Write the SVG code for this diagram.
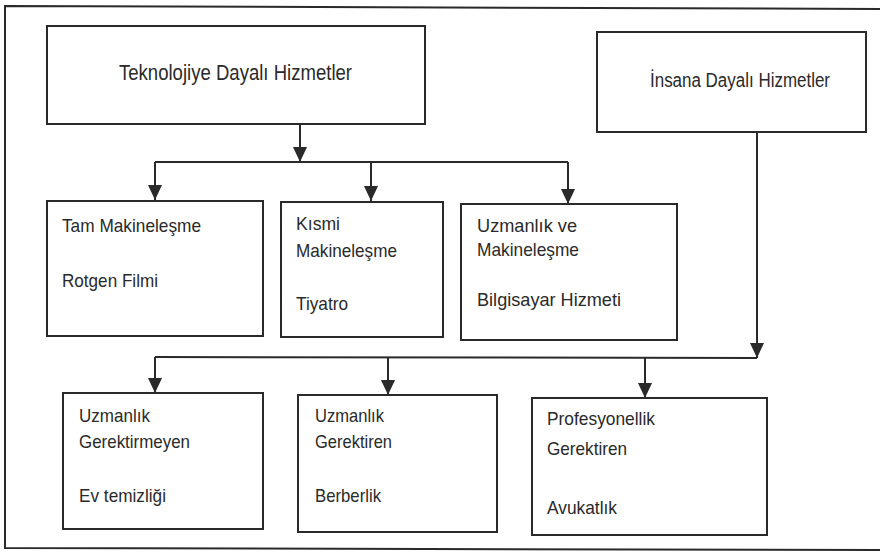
<svg xmlns="http://www.w3.org/2000/svg" width="880" height="553" viewBox="0 0 880 553">
<style>
.bx{fill:#fff;stroke:#2a2a2a;stroke-width:2}
.ln{fill:none;stroke:#2a2a2a;stroke-width:2}
.t{font-family:"Liberation Sans",Arial,sans-serif;font-size:19px;fill:#2a2a2a}
.h{font-family:"Liberation Sans",Arial,sans-serif;fill:#2a2a2a}
</style>
<defs>
<marker id="arr" viewBox="0 -8 15 16" refX="15" refY="0" markerWidth="15" markerHeight="16" markerUnits="userSpaceOnUse" orient="auto">
<path d="M0,-7 L15,0 L0,7 z" fill="#2a2a2a"/>
</marker>
</defs>
<rect x="0" y="0" width="880" height="553" fill="#fff"/>
<path class="ln" d="M890,9 L5,6 L5,548 L890,550"/>

<g id="connectors">
<line class="ln" x1="300" y1="124" x2="300" y2="162" marker-end="url(#arr)"/>
<line class="ln" x1="155" y1="162" x2="568" y2="162"/>
<line class="ln" x1="155" y1="162" x2="155" y2="200" marker-end="url(#arr)"/>
<line class="ln" x1="371" y1="162" x2="371" y2="201" marker-end="url(#arr)"/>
<line class="ln" x1="568" y1="162" x2="568" y2="204" marker-end="url(#arr)"/>
<line class="ln" x1="757" y1="132" x2="757" y2="358" marker-end="url(#arr)"/>
<line class="ln" x1="155" y1="357" x2="757" y2="358"/>
<line class="ln" x1="155" y1="357" x2="155" y2="393" marker-end="url(#arr)"/>
<line class="ln" x1="388" y1="357" x2="388" y2="395" marker-end="url(#arr)"/>
<line class="ln" x1="645" y1="358" x2="645" y2="398" marker-end="url(#arr)"/>
</g>

<g id="tech">
<rect class="bx" x="47" y="26" width="378" height="98"/>
<text class="h" x="119" y="80" font-size="22" textLength="233" lengthAdjust="spacingAndGlyphs">Teknolojiye Dayalı Hizmetler</text>
</g>
<g id="human">
<rect class="bx" x="597" y="32" width="269" height="100"/>
<text class="h" x="650" y="87" font-size="20" textLength="180" lengthAdjust="spacingAndGlyphs">İnsana Dayalı Hizmetler</text>
</g>

<g id="full">
<rect class="bx" x="47" y="201" width="216" height="135"/>
<text class="t" x="62" y="232" textLength="139" lengthAdjust="spacingAndGlyphs">Tam Makineleşme</text>
<text class="t" x="62" y="287" textLength="96" lengthAdjust="spacingAndGlyphs">Rotgen Filmi</text>
</g>
<g id="partial">
<rect class="bx" x="281" y="202" width="162" height="135"/>
<text class="t" x="296" y="230" textLength="44" lengthAdjust="spacingAndGlyphs">Kısmi</text>
<text class="t" x="296" y="257" textLength="101" lengthAdjust="spacingAndGlyphs">Makineleşme</text>
<text class="t" x="296" y="310" textLength="52" lengthAdjust="spacingAndGlyphs">Tiyatro</text>
</g>
<g id="expertmech">
<rect class="bx" x="461" y="204" width="216" height="136"/>
<text class="t" x="477" y="232" textLength="100" lengthAdjust="spacingAndGlyphs">Uzmanlık ve</text>
<text class="t" x="477" y="256" textLength="102" lengthAdjust="spacingAndGlyphs">Makineleşme</text>
<text class="t" x="477" y="306" textLength="144" lengthAdjust="spacingAndGlyphs">Bilgisayar Hizmeti</text>
</g>

<g id="noexpert">
<rect class="bx" x="63" y="393" width="200" height="136"/>
<text class="t" x="79" y="422" textLength="71" lengthAdjust="spacingAndGlyphs">Uzmanlık</text>
<text class="t" x="79" y="448" textLength="111" lengthAdjust="spacingAndGlyphs">Gerektirmeyen</text>
<text class="t" x="79" y="502" textLength="87" lengthAdjust="spacingAndGlyphs">Ev temizliği</text>
</g>
<g id="expert">
<rect class="bx" x="298" y="395" width="199" height="137"/>
<text class="t" x="315" y="422" textLength="69" lengthAdjust="spacingAndGlyphs">Uzmanlık</text>
<text class="t" x="315" y="448" textLength="77" lengthAdjust="spacingAndGlyphs">Gerektiren</text>
<text class="t" x="315" y="502" textLength="66" lengthAdjust="spacingAndGlyphs">Berberlik</text>
</g>
<g id="professional">
<rect class="bx" x="532" y="398" width="235" height="137"/>
<text class="t" x="547" y="425" textLength="108" lengthAdjust="spacingAndGlyphs">Profesyonellik</text>
<text class="t" x="547" y="455" textLength="80" lengthAdjust="spacingAndGlyphs">Gerektiren</text>
<text class="t" x="547" y="514" textLength="70" lengthAdjust="spacingAndGlyphs">Avukatlık</text>
</g>
</svg>
